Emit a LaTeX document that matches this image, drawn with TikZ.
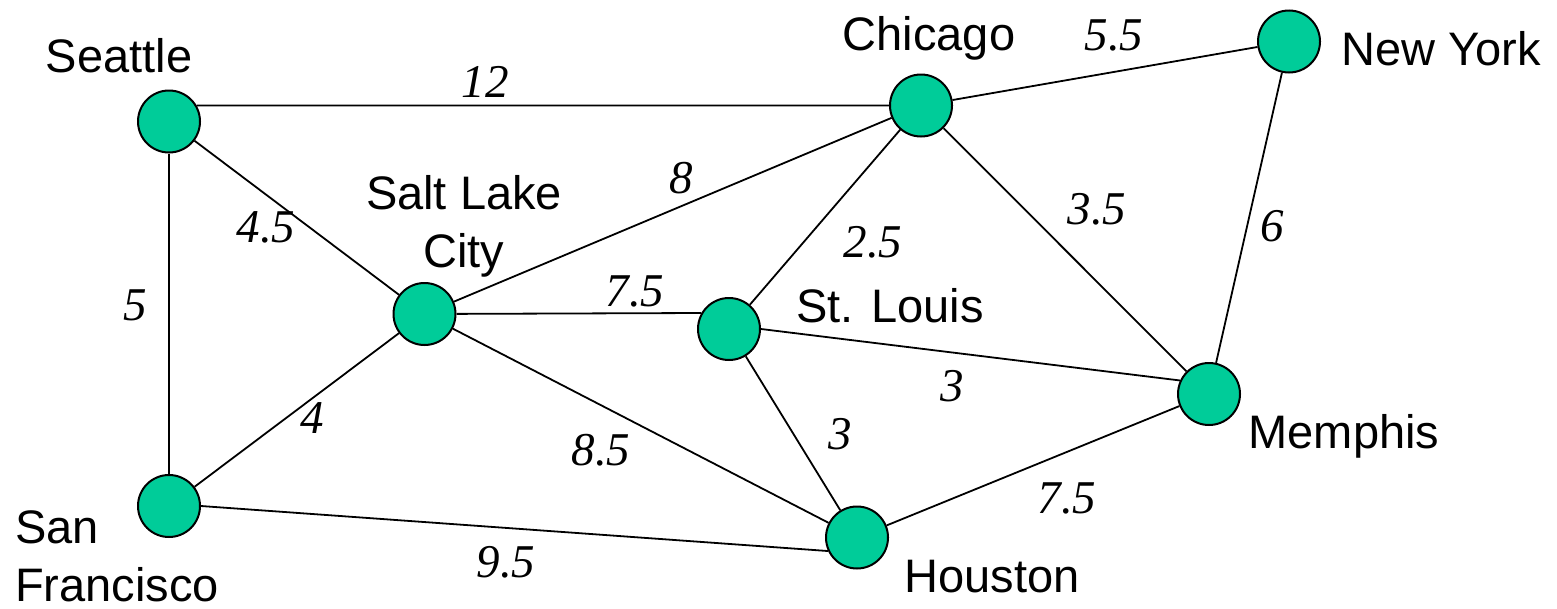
\documentclass[tikz,border=0pt]{standalone}
\usepackage{fontspec}
\setmainfont{Liberation Sans}
\newfontfamily\numfont{Liberation Serif}
\definecolor{cityfill}{RGB}{0,204,153}
\begin{document}
\begin{tikzpicture}[x=1pt,y=-1pt,
  city/.style={circle,draw=black,line width=2pt,fill=cityfill,minimum size=62pt,inner sep=0pt},
  edge/.style={draw=black,line width=1.8pt},
  cname/.style={font=\fontsize{47}{58}\selectfont,inner sep=0pt,anchor=base},
  wt/.style={font=\numfont\itshape\fontsize{47}{58}\selectfont,inner sep=0pt,anchor=base}]
\useasboundingbox (0,0) rectangle (1557,608);
\fill[white] (0,0) rectangle (1557,608);
% city nodes
\node[city] (sea) at (169,121.5) {};
\node[city] (chi) at (921,105.5) {};
\node[city] (ny)  at (1289,41.5) {};
\node[city] (slc) at (424.5,314) {};
\node[city] (stl) at (729,329) {};
\node[city] (mem) at (1209,394) {};
\node[city] (sf)  at (169,506) {};
\node[city] (hou) at (857,537.5) {};
% edges
\path[edge] (sea.30) -- (chi);
\path[edge] (sea) -- (slc);
\path[edge] (sea) -- (sf);
\path[edge] (chi) -- (ny);
\path[edge] (chi) -- (slc);
\path[edge] (chi) -- (stl);
\path[edge] (chi) -- (mem);
\path[edge] (ny) -- (mem);
\path[edge] (slc) -- (stl.150);
\path[edge] (slc) -- (sf);
\path[edge] (slc) -- (hou);
\path[edge] (stl.east) -- (mem.155);
\path[edge] (stl) -- (hou);
\path[edge] (sf.east) -- (hou.205);
\path[edge] (hou) -- (mem);
% city names
\node[cname] (lsea) at (119,72) {Seattle};
\node[cname] (lchi) at (929,50) {Chicago};
\node[cname] (lny)  at (1441,65) {New York};
\node[cname,align=center] (lslc) at (464,267) {Salt Lake\\City};
\node[cname] (lstl) at (890,322) {St. Louis};
\node[cname] (lmem) at (1344,448) {Memphis};
\node[cname,align=left,anchor=base west] (lsf) at (15,601) {San\\Francisco};
\node[cname] (lhou) at (992,592) {Houston};
% weights
\node[wt] (w1)  at (485,97)   {12};
\node[wt] (w2)  at (1114,50)  {5.5};
\node[wt] (w3)  at (681,193)  {8};
\node[wt] (w4)  at (266,242)  {4.5};
\node[wt] (w5)  at (135,320)  {5};
\node[wt] (w6)  at (635,306)  {7.5};
\node[wt] (w7)  at (873,257)  {2.5};
\node[wt] (w8)  at (1097,224) {3.5};
\node[wt] (w9)  at (1272,241) {6};
\node[wt] (w10) at (952,401)  {3};
\node[wt] (w11) at (312,433)  {4};
\node[wt] (w12) at (601,465)  {8.5};
\node[wt] (w13) at (840,449)  {3};
\node[wt] (w14) at (1067,513) {7.5};
\node[wt] (w15) at (506,577)  {9.5};
\end{tikzpicture}
\end{document}
